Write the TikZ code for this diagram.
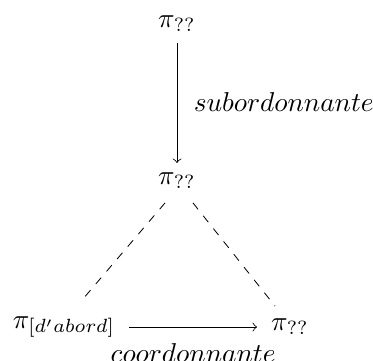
\documentclass[tikz,border=0pt]{standalone}
\usepackage{amsmath}
\usetikzlibrary{calc}
\begin{document}
\begin{tikzpicture}[x=0.3663pt,y=-0.3663pt,
  obj/.style={inner sep=2pt},
  lbl/.style={inner sep=1pt},
  arr/.style={->,line width=0.3pt},
  dsh/.style={dashed,line width=0.3pt}]
\useasboundingbox (0,0) rectangle (373,360);
\node[obj] (top) at (177,24) {$\pi_{\text{??}}$};
\node[obj] (mid) at (177,181) {$\pi_{\text{??}}$};
\node[obj] (left) at (64,327) {$\pi_{[d'abord]}$};
\node[obj] (right) at (290,327) {$\pi_{\text{??}}$};
\draw[arr,shorten <=2pt,shorten >=1.5pt] (top) -- node[right,lbl,xshift=5pt] {$subordonnante$} (mid);
\draw[arr,shorten <=3pt,shorten >=3pt] (left) -- node[below,lbl,yshift=-5pt] {$coordonnante$} (right);
\draw[dsh] ($(mid.south)+(-12,8)$) -- ($(left.north)+(17,-9)$);
\draw[dsh] ($(mid.south)+(16,8)$) -- ($(right.north)+(-15,-7)$);
\end{tikzpicture}
\end{document}
